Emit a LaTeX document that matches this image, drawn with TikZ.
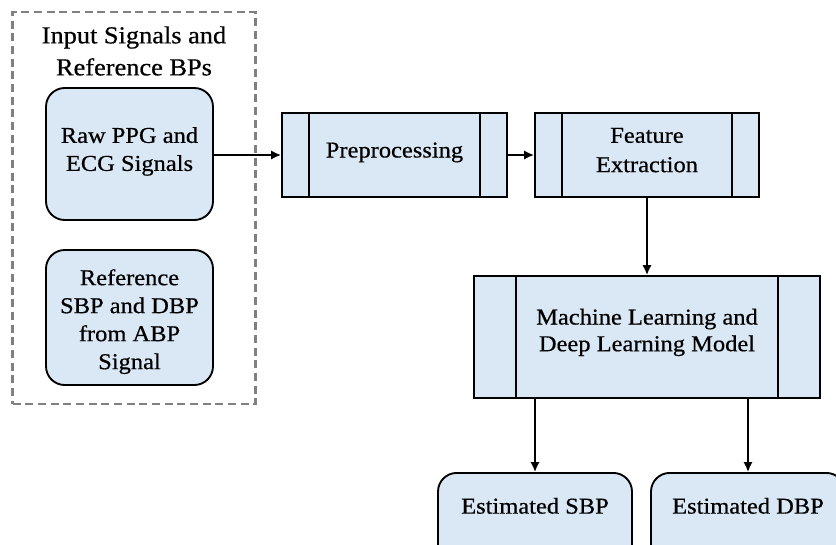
\documentclass[tikz,border=0pt]{standalone}
\usepackage{fontspec}
\setmainfont[FakeStretch=1.08,FakeBold=0.6]{Liberation Serif}
\usetikzlibrary{arrows.meta}
\definecolor{boxfill}{HTML}{DAE7F4}
\definecolor{dashgray}{HTML}{808080}
\tikzset{
  box/.style={draw=black, line width=1.4pt, fill=boxfill, align=center,
    font=\fontsize{17pt}{21pt}\selectfont, inner sep=0pt},
  roundbox/.style={box, rounded corners=14pt},
  procbox/.style={box},
  arrow/.style={line width=1.35pt, -{Latex[length=7.5pt,width=7pt]}},
  groupbox/.style={draw=dashgray, line width=1.7pt, dash pattern=on 6pt off 3.5pt},
}
\begin{document}
\begin{tikzpicture}[x=0.75pt,y=-0.75pt]
\useasboundingbox (0,0) rectangle (836,544);
\clip (0,0) rectangle (836,544);
\fill[white] (0,0) rectangle (836,544);

% input group
\node[groupbox, minimum width=182.25pt, minimum height=294pt] (group) at (134,208) {};
\node[align=center, font=\fontsize{18.3pt}{24pt}\selectfont] (title) at (134,51)
  {Input Signals and\\Reference BPs};

\node[roundbox, minimum width=125.25pt, minimum height=99pt] (raw) at (129.5,154)
  {Raw PPG and\\ECG Signals\\[-13.5pt]};
\node[roundbox, minimum width=125.25pt, minimum height=101.25pt] (ref) at (129.5,317.5)
  {Reference\\SBP and DBP\\from ABP\\Signal\\[-23.5pt]};

% process boxes with side bars
\node[procbox, minimum width=168.75pt, minimum height=63pt] (pre) at (394.5,155)
  {Preprocessing\\[-13.5pt]};
\node[procbox, minimum width=168pt, minimum height=63pt] (feat) at (647,155)
  {Feature\\[1pt]Extraction\\[-13.5pt]};
\node[procbox, minimum width=259.5pt, minimum height=91.5pt] (ml) at (647,337)
  {Machine Learning and\\[-1pt]Deep Learning Model\\[-10.5pt]};

\foreach \n/\d in {pre/21pt, feat/21pt, ml/32.25pt}{
  \draw[line width=1.4pt] ([xshift=\d]\n.north west) -- ([xshift=\d]\n.south west);
  \draw[line width=1.4pt] ([xshift=-\d]\n.north east) -- ([xshift=-\d]\n.south east);
}

% outputs
\node[roundbox, anchor=north, minimum width=145.5pt, text height=30.5pt, text depth=46pt]
  (sbp) at (535,472) {Estimated SBP};
\node[roundbox, anchor=north, minimum width=145.5pt, text height=30.5pt, text depth=46pt]
  (dbp) at (748,472) {Estimated DBP};

% connectors
\draw[arrow] (raw.east |- pre.west) -- (pre.west);
\draw[arrow] (pre.east) -- (feat.west);
\draw[arrow] (feat.south) -- (ml.north);
\draw[arrow] (ml.south -| sbp.north) -- (sbp.north);
\draw[arrow] (ml.south -| dbp.north) -- (dbp.north);
\end{tikzpicture}
\end{document}
